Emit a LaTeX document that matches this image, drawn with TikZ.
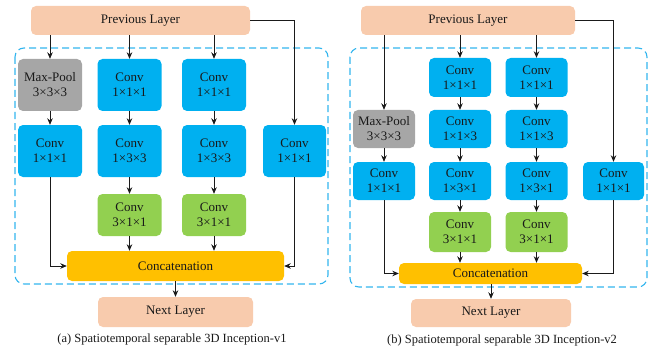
\documentclass[tikz,border=0pt]{standalone}
\usepackage{fontspec}
\setmainfont{Liberation Serif}
\usetikzlibrary{arrows.meta}
\definecolor{peach}{HTML}{F8CBAD}
\definecolor{convblue}{HTML}{00B0F0}
\definecolor{poolgray}{HTML}{A6A6A6}
\definecolor{convgreen}{HTML}{92D050}
\definecolor{concatorange}{HTML}{FFC000}
\definecolor{frameblue}{HTML}{33B5EE}
\definecolor{wire}{HTML}{1A1A1A}
\tikzset{
  blk/.style={rounded corners=5pt, draw=none, align=center, inner sep=0pt,
    font=\fontsize{13}{15}\selectfont, text=black!90},
  layer/.style={blk, fill=peach},
  conv/.style={blk, fill=convblue},
  pool/.style={blk, fill=poolgray},
  sep/.style={blk, fill=convgreen},
  cat/.style={blk, fill=concatorange},
  frame/.style={draw=frameblue, line width=1.1pt, dash pattern=on 7pt off 4pt, rounded corners=9pt},
  arr/.style={draw=wire, line width=0.8pt, -{Stealth[length=6.5pt,width=5.5pt]}},
  caption/.style={font=\fontsize{12.5}{15}\selectfont, text=black!90}
}
\begin{document}
\begin{tikzpicture}[x=1pt, y=-1pt]
\useasboundingbox (0,0) rectangle (655,350);

% ---------------- Inception-v1 ----------------
\draw[frame] (15,48) rectangle (328,284);
\node[layer, minimum width=219pt, minimum height=29pt] (prevA) at (140.5,20.5) {Previous Layer};
\node[pool, minimum width=64pt, minimum height=52pt] (mpA) at (50,85) {Max-Pool\\3×3×3};
\node[conv, minimum width=64pt, minimum height=52pt] (a2r1) at (129.5,85) {Conv\\1×1×1};
\node[conv, minimum width=64pt, minimum height=52pt] (a3r1) at (214,85) {Conv\\1×1×1};
\node[conv, minimum width=64pt, minimum height=52pt] (a1r2) at (50,151) {Conv\\1×1×1};
\node[conv, minimum width=64pt, minimum height=52pt] (a2r2) at (129.5,151) {Conv\\1×3×3};
\node[conv, minimum width=64pt, minimum height=52pt] (a3r2) at (214,151) {Conv\\1×3×3};
\node[conv, minimum width=63pt, minimum height=52pt] (a4r2) at (294.5,151) {Conv\\1×1×1};
\node[sep, minimum width=64pt, minimum height=42pt] (a2r3) at (129.5,215) {Conv\\3×1×1};
\node[sep, minimum width=64pt, minimum height=42pt] (a3r3) at (214,215) {Conv\\3×1×1};
\node[cat, minimum width=217pt, minimum height=30pt] (catA) at (175.5,266) {Concatenation};
\node[layer, minimum width=155pt, minimum height=30pt] (nextA) at (175.5,312) {Next Layer};
\node[caption] (capA) at (172,339) {(a) Spatiotemporal separable 3D Inception-v1};

\draw[arr] (prevA.south -| mpA) -- (mpA);
\draw[arr] (prevA.south -| a2r1) -- (a2r1);
\draw[arr] (prevA.south -| a3r1) -- (a3r1);
\draw[arr] (prevA.east) -| (a4r2.north);
\draw[arr] (mpA) -- (a1r2);
\draw[arr] (a2r1) -- (a2r2);
\draw[arr] (a3r1) -- (a3r2);
\draw[arr] (a2r2) -- (a2r3);
\draw[arr] (a3r2) -- (a3r3);
\draw[arr] (a2r3) -- (catA.north -| a2r3);
\draw[arr] (a3r3) -- (catA.north -| a3r3);
\draw[arr] (a1r2.south) |- (catA.west);
\draw[arr] (a4r2.south) |- (catA.east);
\draw[arr] (catA) -- (nextA);

% ---------------- Inception-v2 ----------------
\draw[frame] (350,48) rectangle (647,287);
\node[layer, minimum width=214pt, minimum height=29pt] (prevB) at (468,20.5) {Previous Layer};
\node[conv, minimum width=62pt, minimum height=39pt] (b2r1) at (460,77.5) {Conv\\1×1×1};
\node[conv, minimum width=62pt, minimum height=39pt] (b3r1) at (536.5,77.5) {Conv\\1×1×1};
\node[pool, minimum width=62pt, minimum height=38pt] (mpB) at (384,129) {Max-Pool\\3×3×3};
\node[conv, minimum width=62pt, minimum height=38pt] (b2r2) at (460,129) {Conv\\1×1×3};
\node[conv, minimum width=62pt, minimum height=38pt] (b3r2) at (536.5,129) {Conv\\1×1×3};
\node[conv, minimum width=62pt, minimum height=38pt] (b1r3) at (384,181) {Conv\\1×1×1};
\node[conv, minimum width=62pt, minimum height=38pt] (b2r3) at (460,181) {Conv\\1×3×1};
\node[conv, minimum width=62pt, minimum height=38pt] (b3r3) at (536.5,181) {Conv\\1×3×1};
\node[conv, minimum width=61pt, minimum height=38pt] (b4r3) at (613.5,181) {Conv\\1×1×1};
\node[sep, minimum width=62pt, minimum height=40pt] (b2r4) at (460,232) {Conv\\3×1×1};
\node[sep, minimum width=62pt, minimum height=40pt] (b3r4) at (536.5,232) {Conv\\3×1×1};
\node[cat, minimum width=183pt, minimum height=21pt] (catB) at (490.5,273.5) {Concatenation};
\node[layer, minimum width=160pt, minimum height=28pt] (nextB) at (491,313) {Next Layer};
\node[caption] (capB) at (502,340) {(b) Spatiotemporal separable 3D Inception-v2};

\draw[arr] (prevB.south -| mpB) -- (mpB);
\draw[arr] (prevB.south -| b2r1) -- (b2r1);
\draw[arr] (prevB.south -| b3r1) -- (b3r1);
\draw[arr] (prevB.east) -| (b4r3.north);
\draw[arr] (mpB) -- (b1r3);
\draw[arr] (b2r1) -- (b2r2);
\draw[arr] (b3r1) -- (b3r2);
\draw[arr] (b2r2) -- (b2r3);
\draw[arr] (b3r2) -- (b3r3);
\draw[arr] (b2r3) -- (b2r4);
\draw[arr] (b3r3) -- (b3r4);
\draw[arr] (b2r4) -- (catB.north -| b2r4);
\draw[arr] (b3r4) -- (catB.north -| b3r4);
\draw[arr] (b1r3.south) |- (catB.west);
\draw[arr] (b4r3.south) |- (catB.east);
\draw[arr] (catB.south -| nextB) -- (nextB);
\end{tikzpicture}
\end{document}
